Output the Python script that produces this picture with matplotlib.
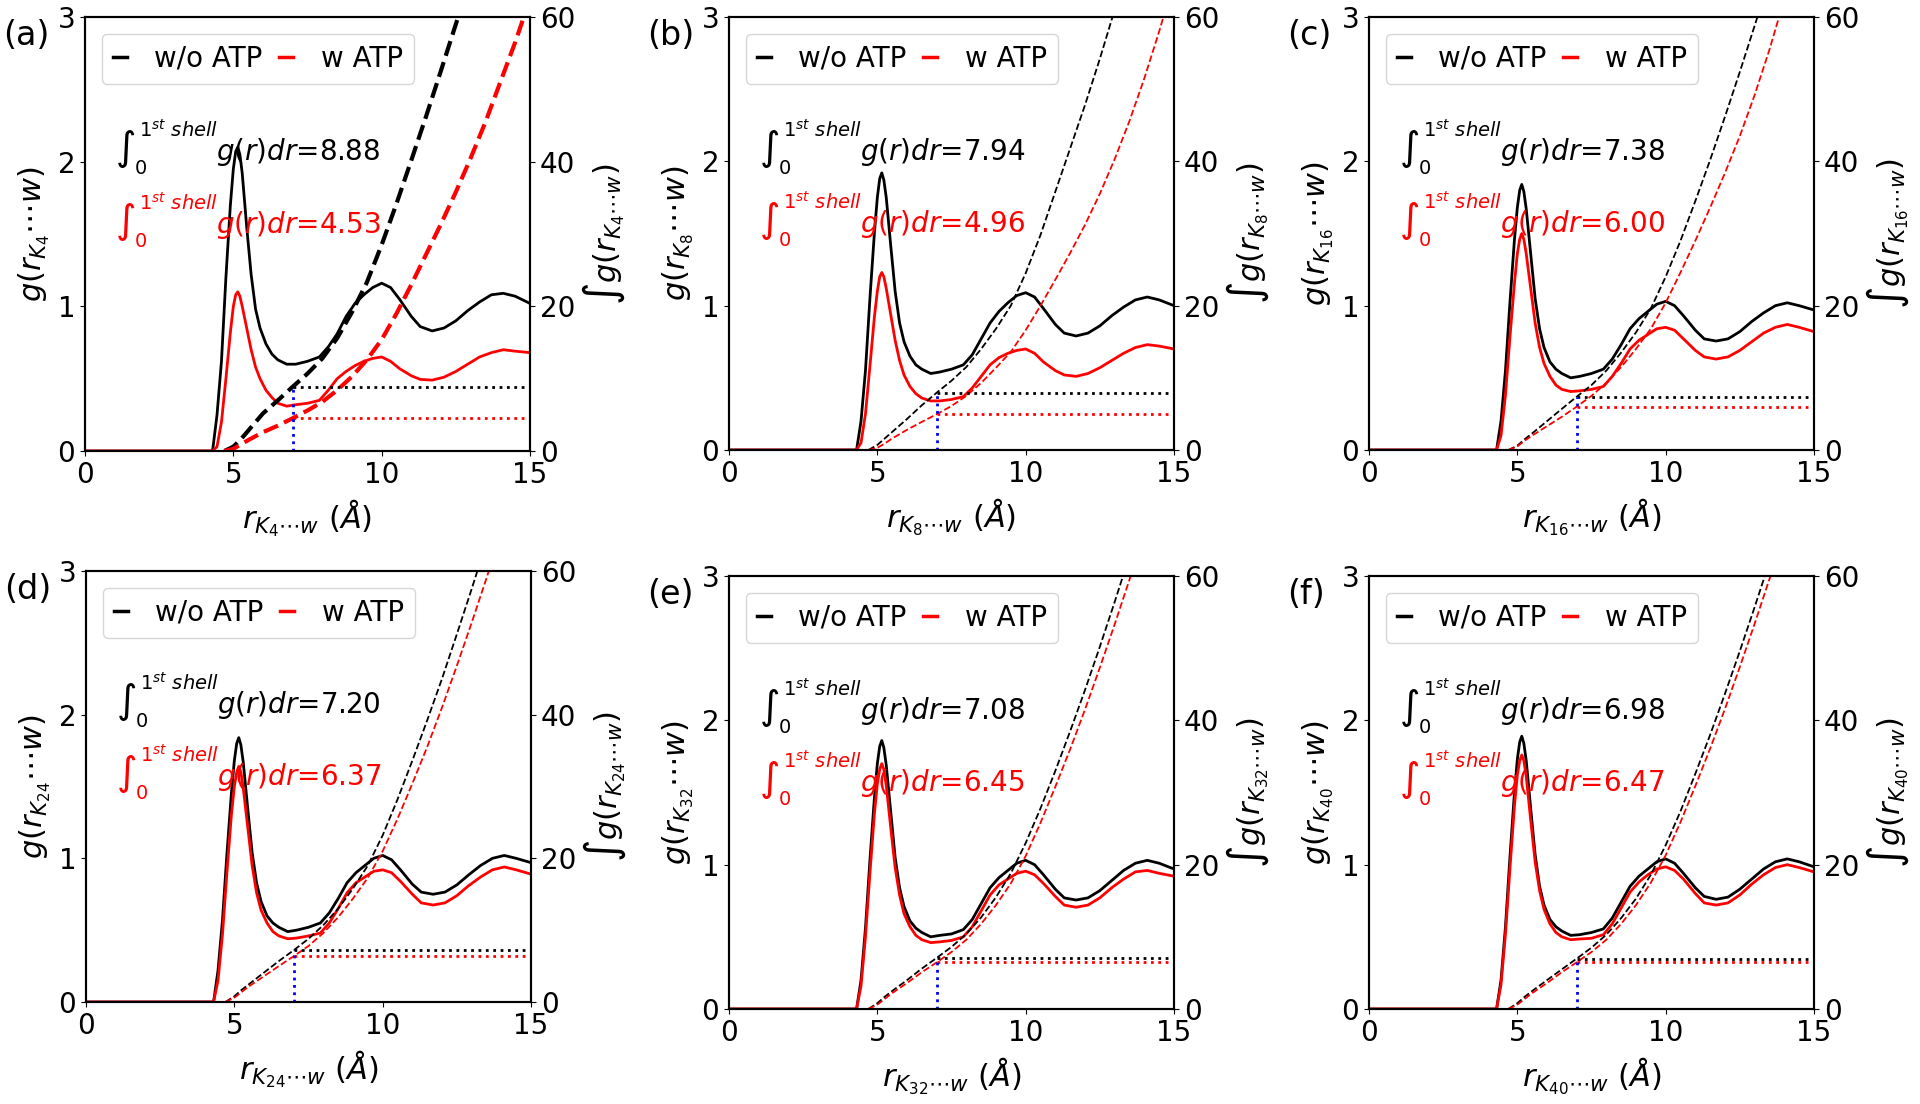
import matplotlib.pyplot as plt
from matplotlib.lines import Line2D

# r grid for g(r) curves (Angstrom)
r_g = [0.0, 4.0, 4.3, 4.45, 4.6, 4.75, 4.9, 5.0, 5.08, 5.15, 5.22, 5.3, 5.45, 5.6, 5.75, 5.9,
       6.1, 6.3, 6.5, 6.8, 7.1, 7.5, 7.9, 8.2, 8.5, 8.8, 9.1, 9.4, 9.7, 10.0, 10.3, 10.6,
       11.0, 11.3, 11.7, 12.1, 12.5, 12.9, 13.3, 13.7, 14.1, 14.5, 15.0]

g_a_wo = [0, 0, 0, 0.25, 0.62, 1.2, 1.7, 1.95, 2.07, 2.1, 2.05, 1.92, 1.55, 1.22, 0.98, 0.85, 0.74, 0.67, 0.63, 0.6, 0.6, 0.62, 0.65, 0.72, 0.81, 0.93, 1.02, 1.08, 1.13, 1.16, 1.13, 1.05, 0.93, 0.86, 0.83, 0.85, 0.9, 0.97, 1.03, 1.08, 1.09, 1.07, 1.02]
g_a_w = [0, 0, 0, 0.03, 0.2, 0.5, 0.82, 1.0, 1.08, 1.1, 1.07, 1.0, 0.85, 0.7, 0.58, 0.5, 0.42, 0.37, 0.33, 0.31, 0.32, 0.33, 0.35, 0.42, 0.5, 0.55, 0.59, 0.62, 0.64, 0.65, 0.62, 0.57, 0.52, 0.495, 0.49, 0.51, 0.55, 0.6, 0.65, 0.68, 0.7, 0.69, 0.68]
g_b_wo = [0, 0, 0, 0.2, 0.55, 1.05, 1.5, 1.75, 1.88, 1.92, 1.87, 1.75, 1.42, 1.1, 0.88, 0.75, 0.65, 0.59, 0.56, 0.53, 0.54, 0.56, 0.59, 0.66, 0.77, 0.88, 0.96, 1.02, 1.07, 1.09, 1.06, 0.98, 0.87, 0.81, 0.79, 0.81, 0.86, 0.93, 0.99, 1.04, 1.06, 1.04, 1.0]
g_b_w = [0, 0, 0, 0.05, 0.25, 0.58, 0.92, 1.1, 1.2, 1.23, 1.2, 1.12, 0.94, 0.76, 0.62, 0.52, 0.44, 0.39, 0.36, 0.34, 0.34, 0.35, 0.37, 0.43, 0.51, 0.59, 0.64, 0.67, 0.69, 0.7, 0.67, 0.61, 0.55, 0.52, 0.51, 0.53, 0.57, 0.62, 0.67, 0.71, 0.73, 0.72, 0.7]
g_c_wo = [0, 0, 0, 0.2, 0.55, 1.02, 1.45, 1.68, 1.8, 1.84, 1.79, 1.67, 1.36, 1.05, 0.84, 0.71, 0.61, 0.56, 0.53, 0.5, 0.51, 0.53, 0.56, 0.63, 0.73, 0.84, 0.91, 0.96, 1.01, 1.03, 1.0, 0.93, 0.83, 0.77, 0.755, 0.77, 0.82, 0.89, 0.95, 1.0, 1.02, 1.0, 0.97]
g_c_w = [0, 0, 0, 0.1, 0.38, 0.78, 1.15, 1.36, 1.46, 1.5, 1.46, 1.36, 1.12, 0.88, 0.71, 0.6, 0.51, 0.45, 0.42, 0.405, 0.41, 0.42, 0.44, 0.51, 0.6, 0.7, 0.76, 0.8, 0.84, 0.85, 0.83, 0.77, 0.69, 0.645, 0.63, 0.645, 0.69, 0.75, 0.81, 0.85, 0.87, 0.85, 0.82]
g_d_wo = [0, 0, 0, 0.22, 0.57, 1.03, 1.45, 1.68, 1.8, 1.84, 1.79, 1.67, 1.35, 1.04, 0.83, 0.7, 0.6, 0.55, 0.52, 0.49, 0.5, 0.52, 0.55, 0.62, 0.72, 0.83, 0.9, 0.95, 1.0, 1.02, 0.99, 0.92, 0.82, 0.765, 0.75, 0.765, 0.815, 0.885, 0.95, 1.0, 1.02, 1.0, 0.97]
g_d_w = [0, 0, 0, 0.15, 0.47, 0.9, 1.3, 1.5, 1.6, 1.64, 1.6, 1.49, 1.22, 0.95, 0.76, 0.64, 0.55, 0.49, 0.46, 0.44, 0.445, 0.46, 0.48, 0.55, 0.65, 0.76, 0.83, 0.87, 0.91, 0.92, 0.9, 0.84, 0.75, 0.69, 0.675, 0.69, 0.74, 0.81, 0.87, 0.92, 0.94, 0.92, 0.89]
g_e_wo = [0, 0, 0, 0.2, 0.56, 1.03, 1.46, 1.7, 1.82, 1.86, 1.81, 1.69, 1.37, 1.05, 0.84, 0.71, 0.61, 0.56, 0.53, 0.5, 0.51, 0.52, 0.55, 0.62, 0.73, 0.84, 0.91, 0.96, 1.01, 1.03, 1.0, 0.93, 0.83, 0.77, 0.755, 0.77, 0.82, 0.89, 0.96, 1.01, 1.03, 1.01, 0.97]
g_e_w = [0, 0, 0, 0.16, 0.5, 0.94, 1.35, 1.56, 1.66, 1.7, 1.66, 1.55, 1.26, 0.98, 0.79, 0.66, 0.57, 0.51, 0.48, 0.46, 0.465, 0.475, 0.5, 0.57, 0.68, 0.79, 0.86, 0.9, 0.94, 0.955, 0.93, 0.87, 0.78, 0.72, 0.705, 0.72, 0.77, 0.84, 0.9, 0.95, 0.96, 0.94, 0.92]
g_f_wo = [0, 0, 0, 0.2, 0.57, 1.05, 1.49, 1.73, 1.85, 1.89, 1.84, 1.72, 1.39, 1.07, 0.85, 0.72, 0.62, 0.57, 0.54, 0.51, 0.515, 0.53, 0.555, 0.63, 0.74, 0.85, 0.92, 0.97, 1.02, 1.04, 1.01, 0.94, 0.84, 0.78, 0.76, 0.775, 0.83, 0.9, 0.97, 1.02, 1.04, 1.02, 0.985]
g_f_w = [0, 0, 0, 0.17, 0.52, 0.97, 1.4, 1.62, 1.72, 1.76, 1.72, 1.61, 1.31, 1.02, 0.82, 0.69, 0.59, 0.53, 0.5, 0.48, 0.485, 0.49, 0.515, 0.59, 0.7, 0.81, 0.88, 0.93, 0.97, 0.985, 0.96, 0.9, 0.8, 0.735, 0.72, 0.735, 0.79, 0.865, 0.93, 0.98, 1.0, 0.98, 0.95]

# r grid for running integrals (right axis)
r_n = [4.7, 5.0, 5.25, 5.5, 6.0, 6.5, 7.0, 7.5, 8.0, 8.5, 9.0, 9.5, 10.0, 10.5, 11.0, 11.5,
       12.0, 12.5, 13.0, 13.5, 14.0, 14.5, 15.0]

n_a_wo = [0, 0.6, 1.6, 2.8, 5.2, 7.0, 8.88, 10.7, 12.8, 15.6, 19.2, 23.3, 28.5, 34.2, 40.2, 46.3, 52.6, 59.0, 65.5, 72, 78, 84, 90]
n_a_w = [0, 0.3, 0.9, 1.5, 2.6, 3.5, 4.53, 5.6, 6.8, 8.4, 10.3, 12.6, 15.4, 19.0, 23.0, 27.2, 31.4, 35.8, 40.5, 45.5, 51, 56.5, 62.5]
n_b_wo = [0, 0.7, 1.6, 2.5, 4.3, 6.2, 7.94, 9.6, 11.5, 14.0, 16.8, 20.0, 24.5, 29.8, 35.8, 41.8, 47.8, 54.2, 61.0, 67.5, 74, 80.5, 87]
n_b_w = [0, 0.3, 0.9, 1.6, 2.8, 3.9, 4.96, 6.1, 7.5, 9.3, 11.4, 13.6, 16.6, 20.0, 23.6, 27.3, 31.2, 35.5, 40.3, 45.6, 51.5, 58, 65]
n_c_wo = [0, 0.6, 1.5, 2.3, 4.0, 5.7, 7.38, 9.0, 11.0, 13.5, 16.3, 19.6, 24.0, 29.0, 34.5, 40.2, 46.2, 52.4, 58.8, 65.3, 72, 79, 86]
n_c_w = [0, 0.5, 1.3, 2.0, 3.3, 4.6, 6.0, 7.5, 9.3, 11.5, 14.0, 16.8, 20.4, 24.6, 29.0, 33.6, 38.4, 43.5, 49.2, 55.5, 62.5, 69.5, 76.5]
n_d_wo = [0, 0.8, 1.7, 2.5, 4.1, 5.7, 7.2, 8.8, 10.7, 13.0, 15.8, 19.0, 23.2, 28.2, 33.6, 39.2, 45.0, 51.2, 57.5, 64.0, 70.5, 77, 84]
n_d_w = [0, 0.6, 1.4, 2.2, 3.6, 5.0, 6.37, 7.8, 9.6, 11.8, 14.4, 17.3, 21.0, 25.5, 30.4, 35.5, 41.0, 46.8, 52.8, 59.0, 65.5, 72, 79]
n_e_wo = [0, 0.8, 1.7, 2.5, 4.0, 5.6, 7.08, 8.6, 10.4, 12.7, 15.5, 18.8, 23.0, 27.8, 33.0, 38.5, 44.2, 50.2, 56.4, 62.8, 69.5, 76, 83]
n_e_w = [0, 0.6, 1.4, 2.2, 3.6, 5.1, 6.45, 7.9, 9.6, 11.8, 14.4, 17.4, 21.2, 25.8, 30.8, 36.0, 41.5, 47.3, 53.3, 59.5, 66, 72.5, 79]
n_f_wo = [0, 0.8, 1.7, 2.5, 4.0, 5.5, 6.98, 8.5, 10.3, 12.6, 15.3, 18.6, 22.7, 27.4, 32.6, 38.0, 43.7, 49.6, 55.7, 62.0, 68.5, 75, 82]
n_f_w = [0, 0.6, 1.4, 2.2, 3.6, 5.1, 6.47, 7.9, 9.6, 11.8, 14.4, 17.5, 21.3, 25.9, 30.9, 36.1, 41.6, 47.4, 53.4, 59.6, 66, 72.5, 79]

panel_tags = ["(a)", "(b)", "(c)", "(d)", "(e)", "(f)"]
k_sites = ["4", "8", "16", "24", "32", "40"]
shell_wo = [8.88, 7.94, 7.38, 7.20, 7.08, 6.98]
shell_w = [4.53, 4.96, 6.00, 6.37, 6.45, 6.47]
r_cut = 7.0

g_wo = [g_a_wo, g_b_wo, g_c_wo, g_d_wo, g_e_wo, g_f_wo]
g_w = [g_a_w, g_b_w, g_c_w, g_d_w, g_e_w, g_f_w]
n_wo = [n_a_wo, n_b_wo, n_c_wo, n_d_wo, n_e_wo, n_f_wo]
n_w = [n_a_w, n_b_w, n_c_w, n_d_w, n_e_w, n_f_w]

# axes boxes in pixels: left, top, right, bottom
boxes = [(85, 17, 530, 451), (729, 17, 1174, 450), (1369, 17, 1814, 450),
         (86, 571, 531, 1002), (729, 576, 1174, 1009), (1369, 576, 1814, 1009)]

W, H = 1920, 1104
fig = plt.figure(figsize=(W / 100, H / 100), dpi=100)

for i in range(6):
    l, t, r, b = boxes[i]
    ax = fig.add_axes([l / W, 1 - b / H, (r - l) / W, (b - t) / H])
    ax2 = ax.twinx()
    k = k_sites[i]
    dash_lw = 3.0 if i == 0 else 1.3

    ax.plot(r_g, g_wo[i], color="black", lw=2)
    ax.plot(r_g, g_w[i], color="red", lw=2)

    ax2.plot(r_n, n_wo[i], color="black", ls="--", lw=dash_lw)
    ax2.plot(r_n, n_w[i], color="red", ls="--", lw=dash_lw)
    ax2.plot([r_cut, 15], [shell_wo[i], shell_wo[i]], color="black", ls=":", lw=2)
    ax2.plot([r_cut, 15], [shell_w[i], shell_w[i]], color="red", ls=":", lw=2)
    ax2.plot([r_cut, r_cut], [0, shell_wo[i]], color="blue", ls=":", lw=2)

    ax.set_xlim(0, 15)
    ax.set_ylim(0, 3)
    ax2.set_ylim(0, 60)
    ax.set_xticks([0, 5, 10, 15])
    ax.set_yticks([0, 1, 2, 3])
    ax2.set_yticks([0, 20, 40, 60])
    ax.tick_params(labelsize=20)
    ax2.tick_params(labelsize=20)
    for a in (ax, ax2):
        for s in a.spines.values():
            s.set_linewidth(1.5)

    ax.set_xlabel(r"$r_{K_{%s}\cdots w}\ (\AA)$" % k, fontsize=22, labelpad=6)
    ax.set_ylabel(r"$g(r_{K_{%s}}\cdots w)$" % k, fontsize=22, labelpad=4)
    ax2.set_ylabel(r"$\int g(r_{K_{%s}\cdots w})$" % k, fontsize=22, labelpad=4)

    ax.text(1.0, 2.0, r"$\int_{0}^{1^{st}\ shell}g(r)dr$=%.2f" % shell_wo[i],
            color="black", fontsize=20, va="baseline")
    ax.text(1.0, 1.5, r"$\int_{0}^{1^{st}\ shell}g(r)dr$=%.2f" % shell_w[i],
            color="red", fontsize=20, va="baseline")

    handles = [Line2D([], [], color="black", lw=2.5), Line2D([], [], color="red", lw=2.5)]
    ax2.legend(handles, ["w/o ATP", "w ATP"], loc="upper left", ncol=2, fontsize=20,
               handlelength=0.5, handletextpad=1.0, columnspacing=0.6,
               borderaxespad=0.6)

    ax.text(-0.185, 0.995, panel_tags[i], transform=ax.transAxes, fontsize=24,
            ha="left", va="top")

fig.savefig("out.png", dpi=100)
